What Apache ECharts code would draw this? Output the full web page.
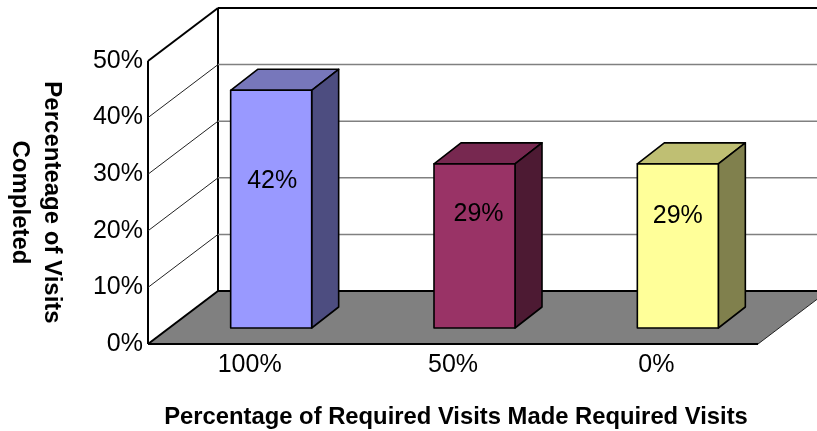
<!DOCTYPE html>
<html>
<head>
<meta charset="utf-8">
<style>html,body{margin:0;padding:0;background:#fff}#c{width:817px;height:431px}</style>
<script src="https://cdn.jsdelivr.net/npm/echarts@6/dist/echarts.min.js"></script>
</head>
<body>
<div id="c"></div>
<script>
const categories = ['100%', '50%', '0%'];
const visitValues = [42, 29, 29];
const yTicks = [0, 10, 20, 30, 40, 50];
const xTitle = 'Percentage of Required Visits Made Required Visits';
const yTitle = 'Percenteage of Visits\nCompleted';

const FONT = '"Liberation Sans", Arial, sans-serif';
const faceColors = [
  { front: '#9999FF', top: '#7777BB', side: '#4D4D80' },
  { front: '#993366', top: '#772850', side: '#4D1A33' },
  { front: '#FFFF99', top: '#BFBF73', side: '#80804D' }
];
const labelShift = [[1, 91], [4, 50], [0, 52]];
const wall = { dx: 70, dy: -53 };
const box = { shift: [21.5, -16], width: 81, dx: 27, dy: -21 };

const chart = echarts.init(document.getElementById('c'), null, { renderer: 'canvas' });

function renderWall(params, api) {
  const tick = api.value(1);
  const cs = params.coordSys;
  const y = api.coord([0, tick])[1];
  const x0 = cs.x, x1 = cs.x + cs.width;
  const topY = api.coord([0, yTicks[yTicks.length - 1]])[1];
  const kids = [];
  const line = (a, b, stroke, w) => ({
    type: 'line',
    shape: { x1: a[0], y1: a[1], x2: b[0], y2: b[1] },
    style: { stroke: stroke, lineWidth: w }
  });
  const bx = x0 + wall.dx, by = y + wall.dy;
  if (tick === yTicks[0]) {
    kids.push({
      type: 'polygon',
      shape: { points: [[x0, y], [bx, by], [x1 + wall.dx, by], [x1, y]] },
      style: { fill: '#808080', stroke: '#222', lineWidth: 1 }
    });
    kids.push(line([bx, by], [bx, topY + wall.dy], '#000', 2));
    kids.push(line([x0, y], [x1, y], '#000', 2));
    kids.push(line([bx, by], [x1 + wall.dx, by], '#000', 2));
    kids.push(line([x0, y], [bx, by], '#000', 2));
    kids.push(line([x0, y], [x0, topY], '#000', 2));
  } else if (tick === yTicks[yTicks.length - 1]) {
    kids.push(line([x0, y], [bx, by], '#000', 2));
    kids.push(line([bx, by], [x1 + wall.dx, by], '#000', 2));
  } else {
    kids.push(line([x0, y], [bx, by], '#222', 1));
    kids.push(line([bx, by], [x1 + wall.dx, by], '#808080', 1.5));
  }
  return { type: 'group', children: kids };
}

function renderBar(params, api) {
  const i = api.value(0);
  const v = api.value(1);
  const top = api.coord([i, v]);
  const base = api.coord([i, 0]);
  const c = faceColors[i];
  const l = top[0] + box.shift[0] - box.width / 2;
  const r = l + box.width;
  const t = top[1] + box.shift[1];
  const b = base[1] + box.shift[1];
  const stroke = { stroke: '#000', lineWidth: 1.6, lineJoin: 'round' };
  return {
    type: 'group',
    children: [
      { type: 'polygon', shape: { points: [[l, t], [l + box.dx, t + box.dy], [r + box.dx, t + box.dy], [r, t]] },
        style: Object.assign({ fill: c.top }, stroke) },
      { type: 'polygon', shape: { points: [[r, t], [r + box.dx, t + box.dy], [r + box.dx, b + box.dy], [r, b]] },
        style: Object.assign({ fill: c.side }, stroke) },
      { type: 'rect', shape: { x: l, y: t, width: box.width, height: b - t },
        style: Object.assign({ fill: c.front }, stroke) },
      { type: 'text', x: (l + r) / 2 + labelShift[i][0], y: t + labelShift[i][1],
        style: { text: v + '%', fill: '#000', font: '25px ' + FONT, align: 'center', verticalAlign: 'middle' } }
    ]
  };
}

chart.setOption({
  animation: false,
  backgroundColor: '#fff',
  textStyle: { fontFamily: FONT },
  grid: { left: 148, right: 59, top: 61, bottom: 87, containLabel: false, outerBoundsMode: 'none' },
  xAxis: {
    type: 'category',
    data: categories,
    axisLine: { show: false },
    axisTick: { show: false },
    axisLabel: { color: '#000', fontSize: 25, fontFamily: FONT, margin: 9 },
    name: xTitle,
    nameLocation: 'middle',
    nameGap: 61,
    nameTextStyle: { color: '#000', fontSize: 23.8, fontWeight: 'bold', fontFamily: FONT, padding: [0, 0, 0, 6] }
  },
  yAxis: {
    type: 'value',
    min: 0,
    max: 50,
    interval: 10,
    axisLine: { show: false },
    axisTick: { show: false },
    splitLine: { show: false },
    axisLabel: { color: '#000', fontSize: 25, fontFamily: FONT, margin: 5, formatter: '{value}%' },
    name: yTitle,
    nameLocation: 'middle',
    nameRotate: -90,
    nameGap: 80,
    nameTextStyle: { color: '#000', fontSize: 24, fontWeight: 'bold', fontFamily: FONT, lineHeight: 32 }
  },
  series: [
    { type: 'custom', renderItem: renderWall, data: yTicks.map(t => [0, t]), silent: true, z: 1 },
    { type: 'custom', renderItem: renderBar, data: visitValues.map((v, i) => [i, v]), silent: true, z: 2 }
  ]
});
</script>
</body>
</html>
